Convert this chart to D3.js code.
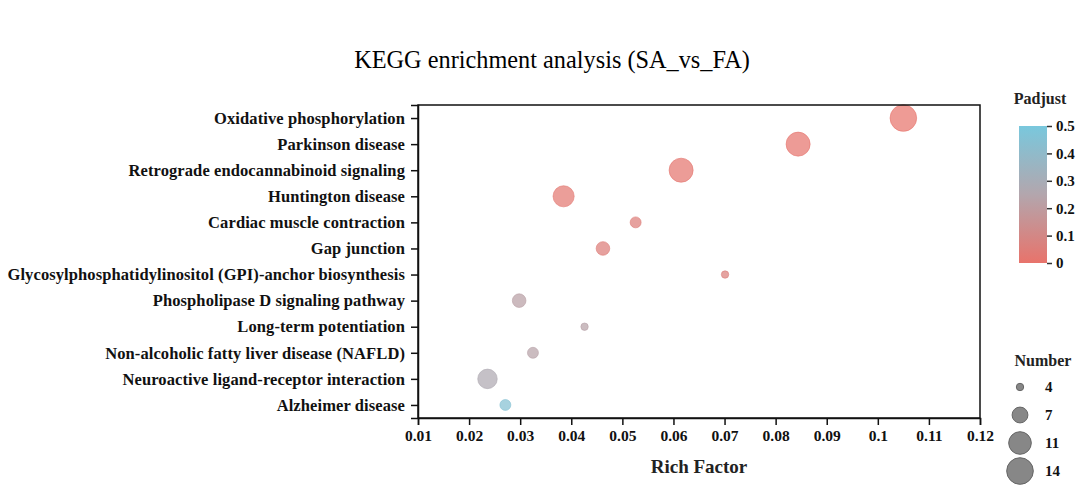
<!DOCTYPE html>
<html>
<head>
<meta charset="utf-8">
<script src="https://cdn.jsdelivr.net/npm/d3@7"></script>
<style>
  body { margin: 0; background: #fff; }
  svg { display: block; font-family: "Liberation Serif", "Times New Roman", serif; }
</style>
</head>
<body>
<svg id="chart" width="1084" height="490"></svg>
<script>
// values (top to bottom)
const pathways = [
  "Oxidative phosphorylation",
  "Parkinson disease",
  "Retrograde endocannabinoid signaling",
  "Huntington disease",
  "Cardiac muscle contraction",
  "Gap junction",
  "Glycosylphosphatidylinositol (GPI)-anchor biosynthesis",
  "Phospholipase D signaling pathway",
  "Long-term potentiation",
  "Non-alcoholic fatty liver disease (NAFLD)",
  "Neuroactive ligand-receptor interaction",
  "Alzheimer disease"
];
const richFactor = [0.105, 0.0844, 0.0615, 0.0385, 0.0526, 0.0462, 0.0701, 0.0298, 0.0426, 0.0325, 0.0236, 0.0271];
const geneNumber = [14, 12, 12, 10, 5, 6, 4, 6, 4, 5, 9, 5];
const padjust = [0.005, 0.01, 0.015, 0.025, 0.05, 0.05, 0.06, 0.22, 0.23, 0.23, 0.27, 0.45];

const xTickValues = [0.01, 0.02, 0.03, 0.04, 0.05, 0.06, 0.07, 0.08, 0.09, 0.1, 0.11, 0.12];
const padjTicks = [0, 0.1, 0.2, 0.3, 0.4, 0.5];
const sizeLegend = [4, 7, 11, 14];

(function() {
  const svg = d3.select("#chart");
  const left = 418, right = 980, top = 105, bottom = 418;

  let x = d3.scaleLinear().domain([0.01, 0.12]).range([left, right]);
  let y = d3.scalePoint().domain(pathways).range([top, bottom]).padding(0.5);

  // area grows linearly with the gene count
  let area = d3.scaleLinear().domain([4, 14]).range([3.7 * 3.7, 13.3 * 13.3]);
  let radius = n => Math.sqrt(area(n));

  let color = d3.scaleLinear()
    .domain([0, 0.25, 0.5])
    .range(["#e8736b", "#b3a6ad", "#79c8dd"]);

  // title
  svg.append("text")
    .attr("x", 552)
    .attr("y", 68)
    .attr("text-anchor", "middle")
    .style("font-size", "24.3px")
    .text("KEGG enrichment analysis (SA_vs_FA)");

  // points
  svg.append("g")
    .selectAll("circle")
    .data(pathways)
    .enter()
    .append("circle")
    .attr("cx", (d, i) => x(richFactor[i]))
    .attr("cy", d => y(d))
    .attr("r", (d, i) => radius(geneNumber[i]))
    .attr("fill", (d, i) => color(padjust[i]))
    .attr("fill-opacity", 0.72)
    .attr("stroke", (d, i) => color(padjust[i]))
    .attr("stroke-opacity", 0.6)
    .attr("stroke-width", 1);

  // frame
  svg.append("rect")
    .attr("x", left)
    .attr("y", top)
    .attr("width", right - left)
    .attr("height", bottom - top)
    .attr("fill", "none")
    .attr("stroke", "#111")
    .attr("stroke-width", 1.5);

  let yAxis = svg.append("g")
    .attr("transform", "translate(" + left + ",0)")
    .call(d3.axisLeft(y).tickSize(7).tickPadding(6));

  let xAxis = svg.append("g")
    .attr("transform", "translate(0," + bottom + ")")
    .call(d3.axisBottom(x).tickValues(xTickValues).tickFormat(d3.format("~g")).tickSize(7).tickPadding(5));

  [xAxis, yAxis].forEach(function(a) {
    a.select(".domain").attr("stroke", "#111").attr("stroke-width", 1.5);
    a.selectAll(".tick line").attr("stroke", "#111").attr("stroke-width", 1.5);
    a.selectAll("text")
      .style("font-family", "'Liberation Serif', 'Times New Roman', serif")
      .style("font-weight", "bold")
      .style("fill", "#111");
  });
  yAxis.selectAll("text").style("font-size", "16.5px").style("letter-spacing", "0.1px");
  xAxis.selectAll("text").style("font-size", "15.5px");

  svg.append("text")
    .attr("x", (left + right) / 2)
    .attr("y", 473)
    .attr("text-anchor", "middle")
    .style("font-size", "19px")
    .style("font-weight", "bold")
    .style("fill", "#222")
    .text("Rich Factor");

  // colour bar legend
  let barX = 1019, barW = 28, barTop = 126, barBottom = 263;
  let c = d3.scaleLinear().domain([0, 0.5]).range([barBottom, barTop]);

  let grad = svg.append("defs").append("linearGradient")
    .attr("id", "padj-grad")
    .attr("x1", "0").attr("y1", "1")
    .attr("x2", "0").attr("y2", "0");
  grad.selectAll("stop")
    .data(color.domain())
    .enter()
    .append("stop")
    .attr("offset", d => d / 0.5)
    .attr("stop-color", d => color(d));

  svg.append("rect")
    .attr("x", barX)
    .attr("y", barTop)
    .attr("width", barW)
    .attr("height", barBottom - barTop)
    .attr("fill", "url(#padj-grad)");

  svg.append("text")
    .attr("x", 1040)
    .attr("y", 104)
    .attr("text-anchor", "middle")
    .style("font-size", "16px")
    .style("font-weight", "bold")
    .style("fill", "#222")
    .text("Padjust");

  let cAxis = svg.append("g")
    .attr("transform", "translate(" + (barX + barW) + ",0)")
    .call(d3.axisRight(c).tickValues(padjTicks).tickFormat(d3.format("~g")).tickSize(5).tickPadding(4));
  cAxis.select(".domain").remove();
  cAxis.selectAll(".tick line").attr("stroke", "#333").attr("stroke-width", 1.5);
  cAxis.selectAll("text")
    .style("font-family", "'Liberation Serif', 'Times New Roman', serif")
    .style("font-size", "15px")
    .style("font-weight", "bold")
    .style("fill", "#111");

  // size legend
  svg.append("text")
    .attr("x", 1043)
    .attr("y", 366)
    .attr("text-anchor", "middle")
    .style("font-size", "16px")
    .style("font-weight", "bold")
    .style("fill", "#222")
    .text("Number");

  let sizeY = d3.scalePoint().domain(sizeLegend).range([387, 471]);
  let sl = svg.append("g")
    .selectAll("g")
    .data(sizeLegend)
    .enter()
    .append("g")
    .attr("transform", d => "translate(1020," + sizeY(d) + ")");
  sl.append("circle")
    .attr("r", d => radius(d))
    .attr("fill", "#7a7a7a")
    .attr("fill-opacity", 0.9)
    .attr("stroke", "#666")
    .attr("stroke-width", 1);
  sl.append("text")
    .attr("x", 25)
    .attr("dy", "0.35em")
    .style("font-size", "15px")
    .style("font-weight", "bold")
    .style("fill", "#111")
    .text(d => d);
})();
</script>
</body>
</html>
